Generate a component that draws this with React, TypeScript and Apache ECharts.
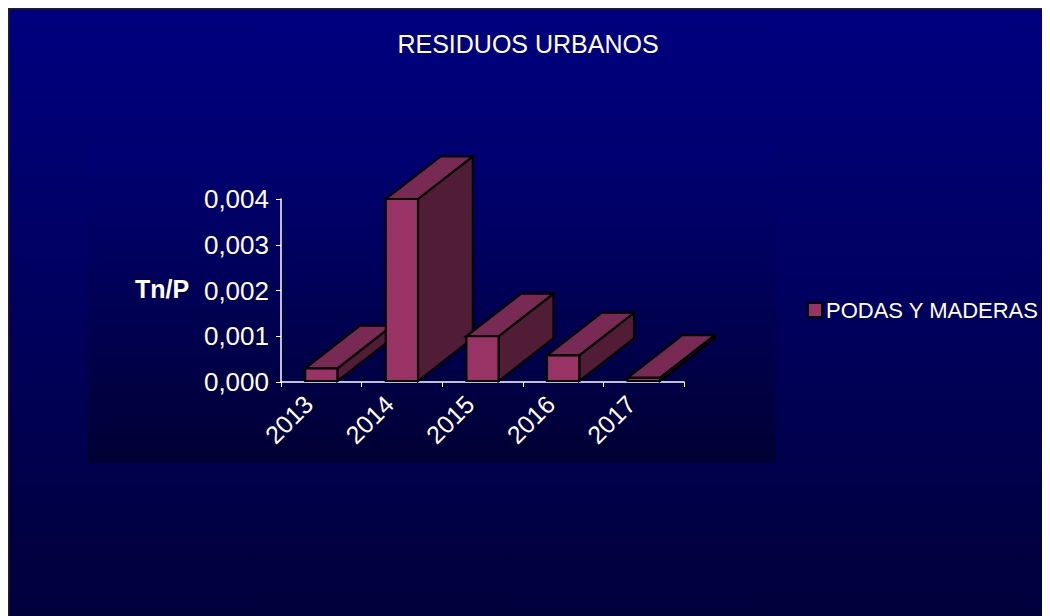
import React, { useEffect, useRef } from "react";
import * as echarts from "echarts";

const titleText = "RESIDUOS URBANOS";
const seriesName = "PODAS Y MADERAS";
const yAxisName = "Tn/P";
const categories = ["2013", "2014", "2015", "2016", "2017"];
const values = [0.0003, 0.004, 0.001, 0.00058, 0.00009];
const yMin = 0;
const yMax = 0.004;
const yInterval = 0.001;

const FONT = "'Liberation Sans', Arial, sans-serif";
const FRONT = "#993366";
const TOP = "#782a54";
const SIDE = "#511c36";

export default function App() {
  const ref = useRef<HTMLDivElement>(null);
  useEffect(() => {
    document.documentElement.style.overflow = "hidden";
    document.body.style.overflow = "hidden";
    const chart = echarts.init(ref.current!, null, { renderer: "svg" });
    const option: any = {
      animation: false,
      backgroundColor: new echarts.graphic.LinearGradient(0, 0, 0, 1, [
        { offset: 0, color: "#000080" },
        { offset: 1, color: "#00003a" },
      ]),
      graphic: [
        {
          type: "rect",
          z: -10,
          silent: true,
          shape: { x: 80, y: 140, width: 688, height: 315 },
          style: {
            fill: new echarts.graphic.LinearGradient(0, 0, 0, 1, [
              { offset: 0, color: "#000074" },
              { offset: 1, color: "#000034" },
            ]),
          },
        },
        {
          type: "rect",
          z: 100,
          silent: true,
          shape: { x: 0.5, y: 0.5, width: 1100, height: 700 },
          style: { fill: "none", stroke: "#222222", lineWidth: 2 },
        },
        {
          type: "text",
          x: 520,
          y: 36,
          style: {
            text: titleText,
            fill: "#ffffff",
            font: `25px ${FONT}`,
            verticalAlign: "middle",
            align: "center",
          },
        },
        {
          type: "text",
          x: 127,
          y: 281,
          style: {
            text: yAxisName,
            fill: "#ffffff",
            font: `bold 25px ${FONT}`,
            verticalAlign: "middle",
            align: "left",
          },
        },
      ],
      legend: {
        left: 799,
        top: 291,
        padding: 0,
        itemWidth: 14,
        itemHeight: 14,
        itemGap: 6,
        data: [
          {
            name: seriesName,
            icon: "rect",
            itemStyle: { color: FRONT, borderColor: "#000000", borderWidth: 2 },
          },
        ],
        textStyle: { color: "#ffffff", fontFamily: FONT, fontSize: 22, padding: [0, 0, 0, -1] },
      },
      grid: { left: 273, top: 191, width: 403, height: 183 },
      xAxis: {
        type: "category",
        data: categories,
        boundaryGap: true,
        axisLine: { lineStyle: { color: "#ffffff", width: 1.5 } },
        axisTick: { show: true, length: 5, lineStyle: { color: "#ffffff" } },
        axisLabel: {
          color: "#ffffff",
          fontFamily: FONT,
          fontSize: 25,
          rotate: 45,
          margin: 5,
          padding: [0, 18, 0, 0],
        },
      },
      yAxis: {
        type: "value",
        min: yMin,
        max: yMax,
        interval: yInterval,
        splitLine: { show: false },
        axisLine: { show: true, lineStyle: { color: "#ffffff", width: 1.5 } },
        axisTick: { show: true, length: 5, lineStyle: { color: "#ffffff" } },
        axisLabel: {
          color: "#ffffff",
          fontFamily: FONT,
          fontSize: 26,
          margin: 12,
          formatter: (v: number) => v.toFixed(3).replace(".", ","),
        },
      },
      series: [
        {
          name: seriesName,
          type: "custom",
          clip: false,
          data: values.map((v, i) => [i, v]),
          encode: { x: 0, y: 1 },
          renderItem: (params: any, api: any) => {
            const idx = api.value(0);
            const v = api.value(1);
            const base = api.coord([idx, 0]);
            const top = api.coord([idx, v]);
            const band = api.size([1, 0])[0];
            const w = band * 0.4;
            const dx = band * 0.68;
            const dy = band * 0.53;
            const x0 = base[0] - w / 2;
            const x1 = base[0] + w / 2;
            const yb = base[1] - 1;
            const yt = top[1];
            const stroke = { stroke: "#000000", lineWidth: 2.2, lineJoin: "miter" };
            return {
              type: "group",
              children: [
                {
                  type: "polygon",
                  shape: { points: [[x1, yb], [x1, yt], [x1 + dx, yt - dy], [x1 + dx, yb - dy]] },
                  style: { fill: SIDE, ...stroke },
                },
                {
                  type: "polygon",
                  shape: { points: [[x0, yt], [x1, yt], [x1 + dx, yt - dy], [x0 + dx, yt - dy]] },
                  style: { fill: TOP, ...stroke },
                },
                {
                  type: "rect",
                  shape: { x: x0, y: yt, width: w, height: yb - yt },
                  style: { fill: FRONT, ...stroke },
                },
              ],
            };
          },
        },
      ],
    };
    chart.setOption(option);
    return () => chart.dispose();
  }, []);
  return <div ref={ref} style={{ width: 1050, height: 616 }} />;
}
